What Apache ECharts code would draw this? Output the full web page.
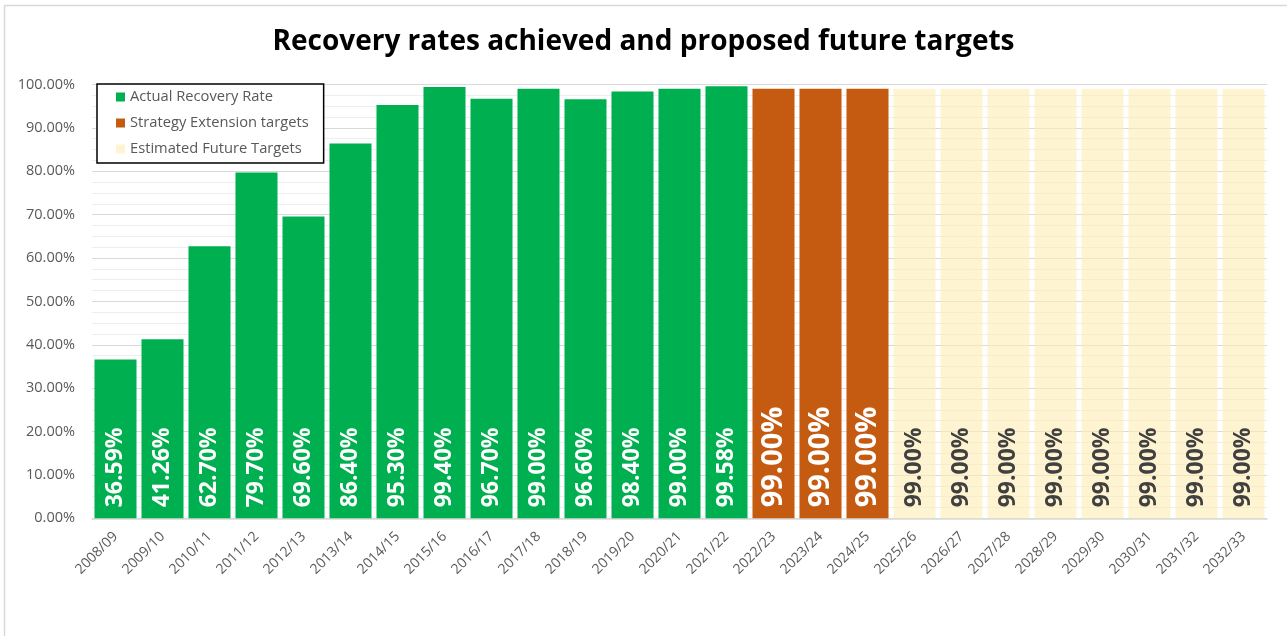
<!DOCTYPE html>
<html>
<head>
<meta charset="utf-8">
<script src="https://cdn.jsdelivr.net/npm/echarts@6/dist/echarts.min.js"></script>
<style>
  html, body { margin: 0; padding: 0; background: #fff; }
  #main { width: 1287px; height: 636px; }
</style>
</head>
<body>
<div id="main"></div>
<script>
var categories = ['2008/09', '2009/10', '2010/11', '2011/12', '2012/13', '2013/14', '2014/15',
    '2015/16', '2016/17', '2017/18', '2018/19', '2019/20', '2020/21', '2021/22',
    '2022/23', '2023/24', '2024/25',
    '2025/26', '2026/27', '2027/28', '2028/29', '2029/30', '2030/31', '2031/32', '2032/33'];

var actualRates = [36.59, 41.26, 62.70, 79.70, 69.60, 86.40, 95.30, 99.40, 96.70, 99.00, 96.60, 98.40, 99.00, 99.58];
var strategyTargets = [99.00, 99.00, 99.00];
var futureTargets = [99.00, 99.00, 99.00, 99.00, 99.00, 99.00, 99.00, 99.00];

var yTicks = [0, 10, 20, 30, 40, 50, 60, 70, 80, 90, 100];

var FONT = 'Open Sans';

// pad each group so it sits at its own categories
function place(values, start) {
    var out = [];
    for (var i = 0; i < categories.length; i++) {
        var k = i - start;
        out.push(k >= 0 && k < values.length ? values[k] : null);
    }
    return out;
}

function pct(p) {
    return p.value.toFixed(2) + '%';
}

function barLabel(color, size) {
    return {
        show: true,
        position: 'insideBottom',
        distance: 11,
        rotate: 90,
        align: 'left',
        verticalAlign: 'middle',
        color: color,
        fontFamily: FONT,
        fontWeight: 'bold',
        fontSize: size,
        formatter: pct
    };
}

var myChart = echarts.init(document.getElementById('main'));

var option = {
    backgroundColor: '#fff',
    animation: false,
    textStyle: { fontFamily: FONT },
    title: {
        text: 'Recovery rates achieved and proposed future targets',
        left: 'center',
        top: 23,
        textStyle: { fontFamily: FONT, fontWeight: 'bold', fontSize: 28, color: '#000' }
    },
    graphic: [{
        type: 'rect',
        shape: { x: 4.5, y: 5.5, width: 1400, height: 800 },
        style: { fill: 'none', stroke: '#D9D9D9', lineWidth: 1.5 },
        silent: true
    }],
    legend: {
        orient: 'vertical',
        left: 97,
        top: 84,
        padding: [5, 15, 6, 19],
        itemGap: 10,
        itemWidth: 9,
        itemHeight: 9,
        icon: 'rect',
        backgroundColor: '#fff',
        borderColor: '#000',
        borderWidth: 1.5,
        borderRadius: 0,
        textStyle: { fontFamily: FONT, fontSize: 14.7, color: '#595959', lineHeight: 16 },
        data: ['Actual Recovery Rate', 'Strategy Extension targets', 'Estimated Future Targets']
    },
    grid: {
        left: 92,
        right: 20,
        top: 84.5,
        bottom: 117.7,
        containLabel: false
    },
    xAxis: {
        type: 'category',
        data: categories,
        axisTick: { show: false },
        axisLine: { lineStyle: { color: '#D9D9D9', width: 1.5 } },
        axisLabel: {
            interval: 0,
            rotate: 45,
            margin: 16,
            color: '#595959',
            fontFamily: FONT,
            fontSize: 14
        }
    },
    yAxis: {
        type: 'value',
        min: yTicks[0],
        max: yTicks[yTicks.length - 1],
        interval: 10,
        axisLine: { show: false },
        axisTick: { show: false },
        minorTick: { show: false, splitNumber: 4 },
        splitLine: { lineStyle: { color: '#D9D9D9', width: 1.2 } },
        minorSplitLine: { show: true, lineStyle: { color: '#EEEEEE', width: 1 } },
        axisLabel: {
            margin: 17,
            color: '#595959',
            fontFamily: FONT,
            fontSize: 14.5,
            formatter: function (v) { return v.toFixed(2) + '%'; }
        }
    },
    series: [
        {
            name: 'Actual Recovery Rate',
            type: 'bar',
            barGap: '-100%',
            barCategoryGap: '10.6%',
            itemStyle: { color: '#00B050' },
            label: barLabel('#fff', 23),
            data: place(actualRates, 0)
        },
        {
            name: 'Strategy Extension targets',
            type: 'bar',
            barGap: '-100%',
            barCategoryGap: '10.6%',
            itemStyle: { color: '#C55A11' },
            label: barLabel('#fff', 29),
            data: place(strategyTargets, actualRates.length)
        },
        {
            name: 'Estimated Future Targets',
            type: 'bar',
            barGap: '-100%',
            barCategoryGap: '10.6%',
            itemStyle: { color: 'rgba(255, 236, 178, 0.6)' },
            label: barLabel('#404040', 23),
            data: place(futureTargets, actualRates.length + strategyTargets.length)
        }
    ]
};

myChart.setOption(option);
</script>
</body>
</html>
